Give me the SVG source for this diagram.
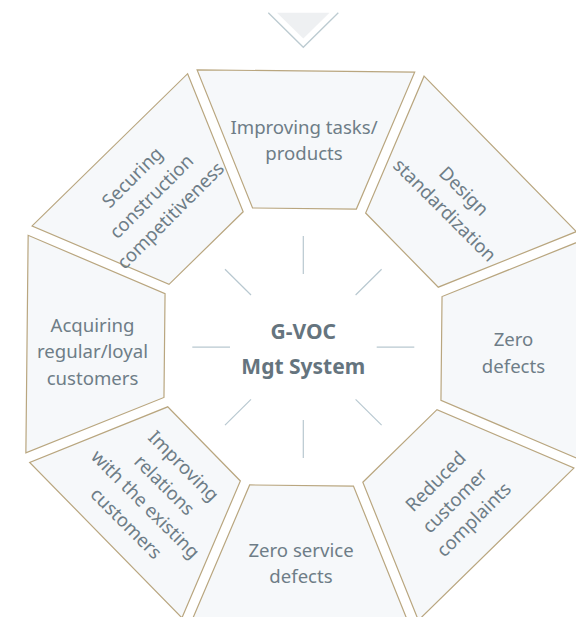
<svg xmlns="http://www.w3.org/2000/svg" width="576" height="617" viewBox="0 0 576 617">
<defs>
<style>
.seg{fill:#f6f8fa;stroke:#b9a67f;stroke-width:1.2}
.lbl{font-family:"Noto Sans","Open Sans","Liberation Sans",sans-serif;font-size:18.6px;fill:#6e7d87;text-anchor:middle}
.ctr{font-family:"Noto Sans","Open Sans","Liberation Sans",sans-serif;font-size:21px;font-weight:bold;fill:#65747e;text-anchor:middle}
.spoke{stroke:#b8c8d0;stroke-width:1.2}
</style>
<path id="trap" d="M-108.8,-276 L108.8,-276 L51.9,-138.5 L-51.9,-138.5 Z"/>
</defs>
<rect width="576" height="617" fill="#ffffff"/>
<g id="chevron">
<polygon points="277,12.7 329.5,12.7 303.3,38.5" fill="#eef0f2"/>
<polyline points="268.3,12.7 303.3,47.3 338.3,12.7" fill="none" stroke="#bccbd1" stroke-width="1.3"/>
</g>
<g id="connectors">
<line class="spoke" x1="303.3" y1="236" x2="303.3" y2="274"/>
<line class="spoke" x1="303.3" y1="420" x2="303.3" y2="458"/>
<line class="spoke" x1="192.3" y1="347.2" x2="230" y2="347.2"/>
<line class="spoke" x1="376.7" y1="347.2" x2="414.3" y2="347.2"/>
<line class="spoke" x1="225" y1="269.3" x2="251" y2="295"/>
<line class="spoke" x1="381.6" y1="269.3" x2="355.6" y2="295"/>
<line class="spoke" x1="225" y1="425.1" x2="251" y2="399.4"/>
<line class="spoke" x1="381.6" y1="425.1" x2="355.6" y2="399.4"/>
</g>
<g id="node-top">
<use href="#trap" class="seg" transform="translate(303,347) rotate(0.6)"/>
<text class="lbl" x="304" y="134">Improving tasks/<tspan x="304" dy="26">products</tspan></text>
</g>
<g id="node-top-right">
<use href="#trap" class="seg" transform="translate(303,347) rotate(45.6)"/>
<text class="lbl" transform="translate(454,201) rotate(45)" x="0" y="-7.5">Design<tspan x="0" dy="27">standardization</tspan></text>
</g>
<g id="node-right">
<use href="#trap" class="seg" transform="translate(303,347) rotate(90.6)"/>
<text class="lbl" x="513.5" y="346">Zero<tspan x="513.5" dy="26.5">defects</tspan></text>
</g>
<g id="node-bottom-right">
<use href="#trap" class="seg" transform="translate(303,347) rotate(135.6)"/>
<text class="lbl" transform="translate(455,500.8) rotate(-45)" x="0" y="-21">Reduced<tspan x="0" dy="27">customer</tspan><tspan x="0" dy="27">complaints</tspan></text>
</g>
<g id="node-bottom">
<use href="#trap" class="seg" transform="translate(303,347) rotate(180.6)"/>
<text class="lbl" x="301" y="557.3">Zero service<tspan x="301" dy="25.5">defects</tspan></text>
</g>
<g id="node-bottom-left">
<use href="#trap" class="seg" transform="translate(303,347) rotate(225.6)"/>
<text class="lbl" transform="translate(154.6,495) rotate(45)" x="0" y="-34.5">Improving<tspan x="0" dy="27">relations</tspan><tspan x="0" dy="27">with the existing</tspan><tspan x="0" dy="27">customers</tspan></text>
</g>
<g id="node-left">
<use href="#trap" class="seg" transform="translate(303,347) rotate(270.6)"/>
<text class="lbl" x="92.5" y="331.7">Acquiring<tspan x="92.5" dy="26.6">regular/loyal</tspan><tspan x="92.5" dy="26.6">customers</tspan></text>
</g>
<g id="node-top-left">
<use href="#trap" class="seg" transform="translate(303,347) rotate(315.6)"/>
<text class="lbl" transform="translate(151.7,196.7) rotate(-45)" x="0" y="-21">Securing<tspan x="0" dy="27">construction</tspan><tspan x="0" dy="27">competitiveness</tspan></text>
</g>
<g id="node-center">
<text class="ctr" x="303.3" y="339.3">G-VOC<tspan x="303.3" dy="34.7">Mgt System</tspan></text>
</g>
</svg>
